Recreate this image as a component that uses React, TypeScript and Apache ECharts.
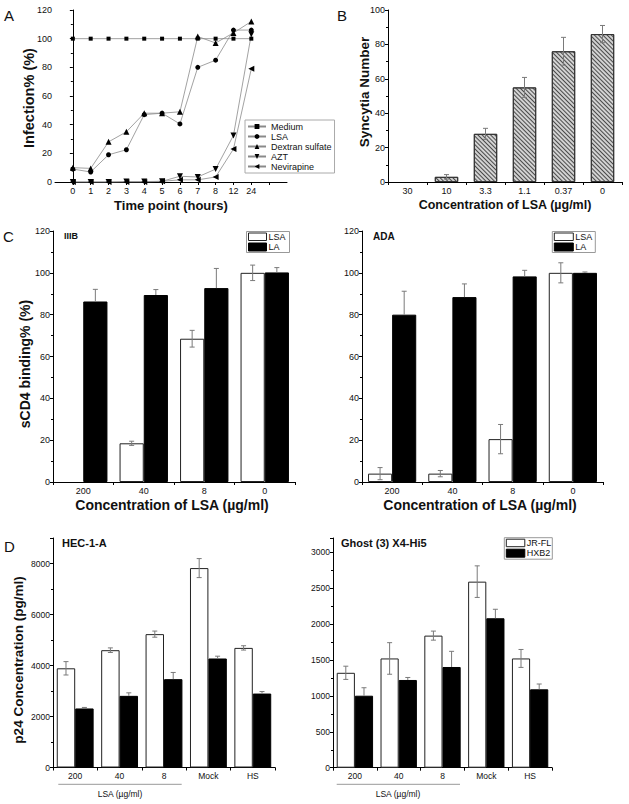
import React, { useEffect, useRef } from "react";
import * as echarts from "echarts";

// ---------- Panel A ----------
const timeLabels = ["0", "1", "2", "3", "4", "5", "6", "7", "8", "12", "24"];
const mediumVals = [100, 100, 100, 100, 100, 100, 100, 100, 100, 100, 100];
const lsaVals = [9, 7, 19, 22.5, 47, 48, 40.5, 80, 85, 106, 106];
const dextranVals = [10, 9.5, 28, 35, 48, 48, 49, 101.5, 97, 104, 112];
const aztVals = [0, 0, 0, 0.3, 0.3, 0.5, 4, 3.5, 9, 32.5, 103];
const nevirapineVals = [0, 0, 0, 0, 0, 0.5, 1.5, 1.5, 3.5, 23, 79];

// ---------- Panel B ----------
const bCats = ["30", "10", "3.3", "1.1", "0.37", "0"];
const bVals = [0, 3, 28, 55, 76, 86];
const bErr = [0, 1.3, 3.2, 5.8, 8.1, 5];

// ---------- Panel C ----------
const cCats = ["200", "40", "8", "0"];
const c1Lsa = [0, 18.5, 68.5, 100];
const c1LsaErr = [0, 1, 4, 3.7];
const c1La = [86.3, 89.4, 92.7, 100.2];
const c1LaErr = [5.8, 2.6, 9.4, 2.3];
const c2Lsa = [4, 4, 20.5, 100];
const c2LsaErr = [2.9, 1.5, 7, 4.8];
const c2La = [80, 88.4, 98.3, 100];
const c2LaErr = [11.2, 6.3, 2.9, 0.4];

// ---------- Panel D ----------
const dCats = ["200", "40", "8", "Mock", "HS"];
const d1White = [3890, 4600, 5230, 7820, 4690];
const d1WhiteErr = [262, 90, 120, 373, 85];
const d1Black = [2315, 2810, 3465, 4275, 2900];
const d1BlackErr = [40, 118, 262, 90, 78];
const d2JrFl = [1322, 1522, 1840, 2592, 1522];
const d2JrFlErr = [92, 220, 63, 220, 125];
const d2Hxb2 = [1003, 1222, 1403, 2082, 1092];
const d2Hxb2Err = [111, 35, 218, 125, 74];

const FONT = "'Liberation Sans', Arial, sans-serif";
const AX = "#000";
const TXT = "#111";

const noZero = (arr: number[]) => arr.map((v) => (v === 0 ? "-" : v));

function valAxis(gridIndex: number, min: number, max: number, interval: number, fs: number) {
  return {
    type: "value",
    gridIndex,
    min,
    max,
    interval,
    splitLine: { show: false },
    axisLine: { show: true, lineStyle: { color: AX, width: 1 } },
    axisTick: { show: true, length: 3, lineStyle: { color: AX } },
    minorTick: { show: true, splitNumber: 2, length: 2, lineStyle: { color: AX } },
    axisLabel: {
      fontSize: fs,
      color: TXT,
      fontFamily: FONT,
      margin: 3,
      showMaxLabel: max % interval === 0,
      formatter: (v: number) => String(v),
    },
  };
}

function catAxis(gridIndex: number, data: string[], fs: number) {
  return {
    type: "category",
    gridIndex,
    data,
    axisLine: { show: true, lineStyle: { color: AX, width: 1 } },
    axisTick: { show: true, length: 3, lineStyle: { color: AX } },
    axisLabel: { fontSize: fs, color: TXT, fontFamily: FONT, margin: 4 },
  };
}

function errSeries(
  axisIdx: number,
  values: number[],
  errs: number[],
  side: number,
  gap: number,
  onlyUp: boolean
) {
  return {
    type: "custom",
    xAxisIndex: axisIdx,
    yAxisIndex: axisIdx,
    z: 10,
    silent: true,
    data: values.map((v, i) => [i, v, errs[i]]),
    renderItem: (params: any, api: any) => {
      const i = api.value(0);
      const v = api.value(1);
      const e = api.value(2);
      if (!e) return null;
      const w = api.size([1, 0])[0];
      const dx = (side * w * (1 - gap)) / 4;
      const top = api.coord([i, v + e]);
      const bot = api.coord([i, onlyUp ? v : v - e]);
      const x = top[0] + dx;
      const cw = 2.5;
      const st = { stroke: "#7a7a7a", lineWidth: 1 };
      const children: any[] = [
        { type: "line", shape: { x1: x, y1: top[1], x2: x, y2: bot[1] }, style: st },
        { type: "line", shape: { x1: x - cw, y1: top[1], x2: x + cw, y2: top[1] }, style: st },
      ];
      if (!onlyUp) {
        children.push({ type: "line", shape: { x1: x - cw, y1: bot[1], x2: x + cw, y2: bot[1] }, style: st });
      }
      return { type: "group", children };
    },
  };
}

function barPair(
  axisIdx: number,
  whiteVals: number[],
  blackVals: number[],
  names: [string, string],
  gapPct: number
) {
  return [
    {
      type: "bar",
      name: names[0],
      xAxisIndex: axisIdx,
      yAxisIndex: axisIdx,
      data: noZero(whiteVals),
      barGap: "0%",
      barCategoryGap: gapPct + "%",
      itemStyle: { color: "#fff", borderColor: "#222", borderWidth: 1 },
      silent: true,
    },
    {
      type: "bar",
      name: names[1],
      xAxisIndex: axisIdx,
      yAxisIndex: axisIdx,
      data: noZero(blackVals),
      barGap: "0%",
      barCategoryGap: gapPct + "%",
      itemStyle: { color: "#000", borderColor: "#000", borderWidth: 1 },
      silent: true,
    },
  ];
}

function txt(x: number, y: number, text: string, size: number, bold: boolean, align = "left", rot = 0) {
  return {
    type: "text",
    x,
    y,
    rotation: rot,
    silent: true,
    style: {
      text,
      fill: TXT,
      font: `${bold ? "bold " : ""}${size}px ${FONT}`,
      textAlign: align,
      textVerticalAlign: "middle",
    },
  };
}

function legendBox(x: number, y: number, w: number, h: number, labels: [string, string], rectW: number) {
  const rx = x + 2;
  return [
    { type: "rect", shape: { x, y, width: w, height: h }, style: { fill: "#fff", stroke: "#999", lineWidth: 1 }, silent: true },
    { type: "rect", shape: { x: rx, y: y + 1.5, width: rectW, height: 7.5 }, style: { fill: "#fff", stroke: "#222", lineWidth: 1 }, silent: true },
    { type: "rect", shape: { x: rx, y: y + 11.5, width: rectW, height: 8 }, style: { fill: "#000", stroke: "#000", lineWidth: 1 }, silent: true },
    txt(rx + rectW + 2, y + 5.5, labels[0], 9, false),
    txt(rx + rectW + 2, y + 15.5, labels[1], 9, false),
  ];
}

export default function App() {
  const ref = useRef<HTMLDivElement>(null);
  useEffect(() => {
    document.body.style.margin = "0";
    if (!ref.current) return;
    const chart = echarts.init(ref.current, undefined, { renderer: "svg" });

    const lineStyle = { color: "#8a8a8a", width: 0.8 };
    const pts = (arr: number[]) => arr.map((v, i) => [i, v]);
    const lineSeries = (name: string, arr: number[], symbol: string, rotate: number, size: number) => ({
      type: "line",
      name,
      xAxisIndex: 0,
      yAxisIndex: 0,
      data: pts(arr),
      symbol,
      symbolRotate: rotate,
      symbolSize: size,
      showSymbol: true,
      lineStyle,
      itemStyle: { color: "#000" },
      silent: true,
    });

    const option: any = {
      animation: false,
      textStyle: { fontFamily: FONT },
      grid: [
        { left: 55, top: 10, width: 232, height: 172 },
        { left: 388, top: 10, width: 234, height: 172 },
        { left: 53, top: 231, width: 242, height: 251 },
        { left: 362, top: 231, width: 241, height: 251 },
        { left: 53, top: 538, width: 222, height: 229.5 },
        { left: 333, top: 538, width: 219, height: 229.7 },
      ],
      xAxis: [
        {
          type: "value",
          gridIndex: 0,
          min: -1,
          max: 12,
          interval: 1,
          splitLine: { show: false },
          axisLine: { show: true, lineStyle: { color: AX } },
          axisTick: { show: true, length: 3, lineStyle: { color: AX } },
          axisLabel: {
            fontSize: 9,
            color: TXT,
            fontFamily: FONT,
            margin: 4,
            showMinLabel: false,
            showMaxLabel: false,
            formatter: (v: number) => timeLabels[v] ?? "",
          },
        },
        catAxis(1, bCats, 9),
        catAxis(2, cCats, 9),
        catAxis(3, cCats, 9),
        catAxis(4, dCats, 8.5),
        catAxis(5, dCats, 8.5),
      ],
      yAxis: [
        valAxis(0, 0, 120, 20, 9),
        valAxis(1, 0, 100, 20, 9),
        valAxis(2, 0, 120, 20, 9),
        valAxis(3, 0, 120, 20, 9),
        valAxis(4, 0, 9000, 2000, 8.5),
        valAxis(5, 0, 3200, 500, 8.5),
      ],
      legend: [
        {
          left: 245,
          top: 120,
          orient: "vertical",
          borderColor: "#aaa",
          borderWidth: 1,
          backgroundColor: "#fff",
          padding: [2, 3, 2, 2],
          itemGap: 1,
          itemWidth: 18,
          itemHeight: 6,
          selectedMode: false,
          textStyle: { fontSize: 9, color: TXT, fontFamily: FONT, lineHeight: 9 },
          data: ["Medium", "LSA", "Dextran sulfate", "AZT", "Nevirapine"],
        },
      ],
      series: [
        lineSeries("Medium", mediumVals, "rect", 0, 4),
        lineSeries("LSA", lsaVals, "circle", 0, 5),
        lineSeries("Dextran sulfate", dextranVals, "triangle", 0, 6),
        lineSeries("AZT", aztVals, "triangle", 180, 6),
        lineSeries("Nevirapine", nevirapineVals, "triangle", 90, 6),
        {
          type: "bar",
          xAxisIndex: 1,
          yAxisIndex: 1,
          data: noZero(bVals),
          barWidth: "60%",
          silent: true,
          itemStyle: {
            color: "#d2d2d2",
            borderColor: "#333",
            borderWidth: 1,
            decal: {
              symbol: "rect",
              symbolSize: 1,
              color: "#4a4a4a",
              backgroundColor: "#d2d2d2",
              dashArrayX: [1, 0],
              dashArrayY: [1, 1.5],
              rotation: Math.PI / 4,
            },
          },
        },
        errSeries(1, bVals, bErr, 0, 0.4, false),
        ...barPair(2, c1Lsa, c1La, ["LSA c1", "LA c1"], 20),
        errSeries(2, c1Lsa, c1LsaErr, -1, 0.2, false),
        errSeries(2, c1La, c1LaErr, 1, 0.2, true),
        ...barPair(3, c2Lsa, c2La, ["LSA c2", "LA c2"], 20),
        errSeries(3, c2Lsa, c2LsaErr, -1, 0.2, false),
        errSeries(3, c2La, c2LaErr, 1, 0.2, true),
        ...barPair(4, d1White, d1Black, ["white d1", "black d1"], 17),
        errSeries(4, d1White, d1WhiteErr, -1, 0.17, false),
        errSeries(4, d1Black, d1BlackErr, 1, 0.17, true),
        ...barPair(5, d2JrFl, d2Hxb2, ["JR-FL", "HXB2"], 17),
        errSeries(5, d2JrFl, d2JrFlErr, -1, 0.17, false),
        errSeries(5, d2Hxb2, d2Hxb2Err, 1, 0.17, true),
      ],
      graphic: [
        // panel letters
        txt(4, 15, "A", 15, false),
        txt(337, 15, "B", 15, false),
        txt(3, 236, "C", 15, false),
        txt(4, 546, "D", 15, false),
        // axis titles
        txt(29, 98, "Infection% (%)", 14.5, true, "center", Math.PI / 2),
        txt(171, 205, "Time point (hours)", 13, true, "center"),
        txt(364, 92, "Syncytia Number", 13.5, true, "center", Math.PI / 2),
        txt(505, 205, "Concentration of LSA (µg/ml)", 12.5, true, "center"),
        txt(25, 364, "sCD4 binding% (%)", 14, true, "center", Math.PI / 2),
        txt(172, 505, "Concentration of LSA (µg/ml)", 14, true, "center"),
        txt(480, 505, "Concentration of LSA (µg/ml)", 14, true, "center"),
        txt(18.5, 660, "p24 Concentration (pg/ml)", 13.5, true, "center", Math.PI / 2),
        // inner panel titles
        txt(64, 236, "IIIB", 9, true),
        txt(373, 236, "ADA", 10, true),
        txt(62, 543, "HEC-1-A", 11, true),
        txt(341, 543, "Ghost (3) X4-Hi5", 11, true),
        // legends
        ...legendBox(246.5, 231.5, 43, 21, ["LSA", "LA"], 18),
        ...legendBox(552.3, 231.5, 43, 21, ["LSA", "LA"], 19),
        ...legendBox(504.3, 537.7, 48, 21.5, ["JR-FL", "HXB2"], 18.5),
        // LSA group lines under D axes
        { type: "line", shape: { x1: 58.3, y1: 784.3, x2: 181.7, y2: 784.3 }, style: { stroke: "#999", lineWidth: 1 }, silent: true },
        txt(120, 794, "LSA (µg/ml)", 8.5, false, "center"),
        { type: "line", shape: { x1: 336.7, y1: 784.3, x2: 460, y2: 784.3 }, style: { stroke: "#999", lineWidth: 1 }, silent: true },
        txt(398, 794, "LSA (µg/ml)", 8.5, false, "center"),
      ],
    };

    chart.setOption(option);
    return () => chart.dispose();
  }, []);

  return <div ref={ref} style={{ width: 629, height: 804 }} />;
}
